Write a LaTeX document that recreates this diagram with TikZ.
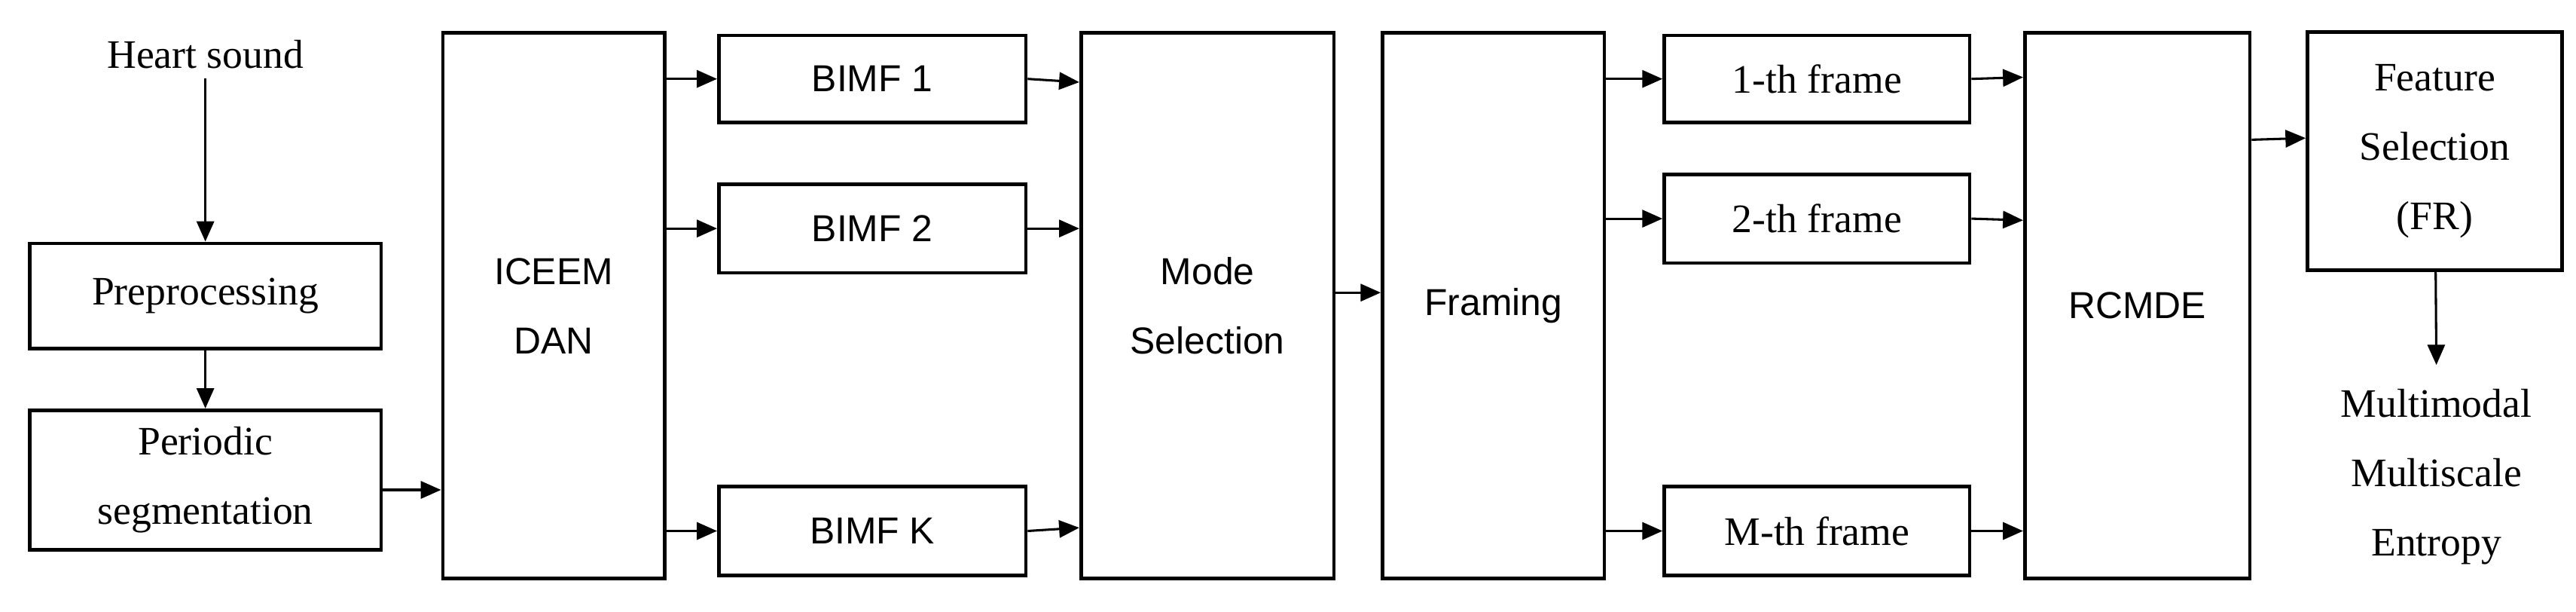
\documentclass[tikz,border=0pt]{standalone}
\usepackage{fontspec}
\setmainfont{Liberation Serif}
\newfontfamily\boxsans{Liberation Sans}
\usetikzlibrary{arrows.meta}
\begin{document}
\begin{tikzpicture}[x=0.02cm,y=-0.02cm,
  box/.style={draw=black, line width=1.2pt, align=center, inner sep=0pt, font=\fontsize{14}{24}\selectfont},
  sbox/.style={box, font=\boxsans\fontsize{13}{24}\selectfont},
  txt/.style={align=center, font=\fontsize{14}{24}\selectfont},
  arr/.style={-{Triangle[length=7pt,width=6pt]}, line width=0.8pt}]
\useasboundingbox (0,0) rectangle (1568,372);

% === Left column ===
\node[txt] (heart) at (125,33) {Heart sound};
\node[box, minimum width=4.28cm, minimum height=1.28cm] (pre) at (125,180) {Preprocessing};
\node[box, minimum width=4.28cm, minimum height=1.7cm] (seg) at (125,292) {Periodic\\segmentation};

% === Decomposition ===
\node[sbox, minimum width=2.7cm, minimum height=6.64cm] (ice) at (337,186) {ICEEM\\DAN};
\node[sbox, minimum width=3.74cm, minimum height=1.06cm] (b1) at (531,48) {BIMF 1};
\node[sbox, minimum width=3.74cm, minimum height=1.08cm] (b2) at (531,139) {BIMF 2};
\node[sbox, minimum width=3.74cm, minimum height=1.08cm] (bk) at (531,323) {BIMF K};
\node[sbox, minimum width=3.08cm, minimum height=6.64cm] (mode) at (735,186) {Mode\\Selection};

% === Framing ===
\node[sbox, minimum width=2.7cm, minimum height=6.64cm] (frm) at (909,186) {Framing};
\node[box, minimum width=3.72cm, minimum height=1.06cm] (f1) at (1106,48) {1-th frame};
\node[box, minimum width=3.72cm, minimum height=1.08cm] (f2) at (1106,133) {2-th frame};
\node[box, minimum width=3.72cm, minimum height=1.08cm] (fm) at (1106,323) {M-th frame};
\node[sbox, minimum width=2.74cm, minimum height=6.64cm] (rc) at (1301,186) {RCMDE};

% === Output ===
\node[box, minimum width=3.1cm, minimum height=2.9cm] (fs) at (1482,92) {Feature\\Selection\\(FR)};
\node[txt] (mme) at (1483,290) {Multimodal\\Multiscale\\Entropy};
\coordinate (mtop) at (1483,222);

% === Arrows ===
\draw[arr] (heart) -- (pre);
\draw[arr] (pre) -- (seg);
\draw[arr] (seg.east |- 0,298) -- (ice.west |- 0,298);
\draw[arr] (ice.east |- b1) -- (b1);
\draw[arr] (ice.east |- b2) -- (b2);
\draw[arr] (ice.east |- bk) -- (bk);
\draw[arr] (b1.east) -- (mode.west |- 0,50);
\draw[arr] (b2.east) -- (mode.west |- 0,139);
\draw[arr] (bk.east) -- (mode.west |- 0,321);
\draw[arr] (mode.east |- 0,178) -- (frm.west |- 0,178);
\draw[arr] (frm.east |- f1) -- (f1);
\draw[arr] (frm.east |- f2) -- (f2);
\draw[arr] (frm.east |- fm) -- (fm);
\draw[arr] (f1.east) -- (rc.west |- 0,47);
\draw[arr] (f2.east) -- (rc.west |- 0,134);
\draw[arr] (fm.east) -- (rc.west |- 0,323);
\draw[arr] (rc.east |- 0,85) -- (fs.west |- 0,84);
\draw[arr] (fs) -- (mtop);
\end{tikzpicture}
\end{document}
